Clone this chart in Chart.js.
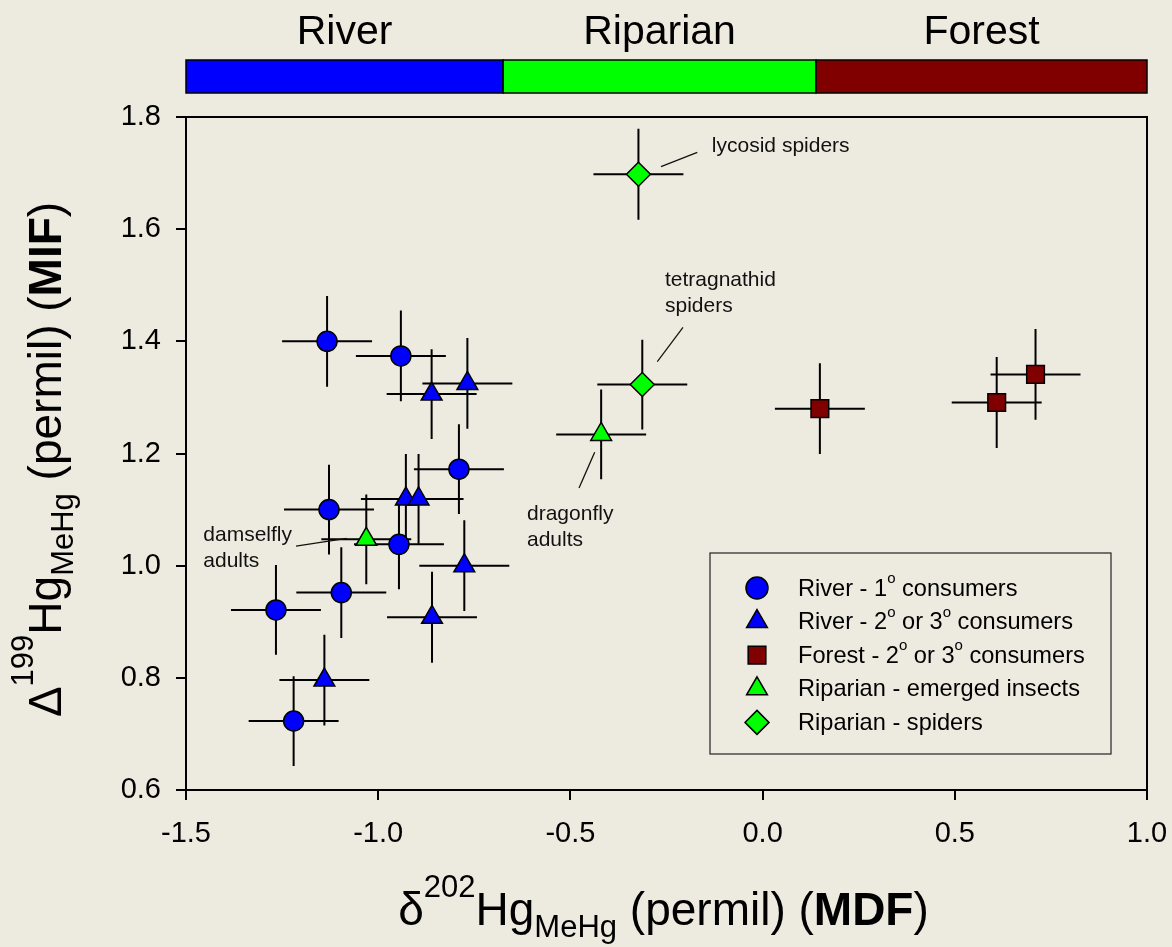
<!DOCTYPE html>
<html>
<head>
<meta charset="utf-8">
<script src="https://cdn.jsdelivr.net/npm/chart.js@4.4.1/dist/chart.umd.min.js"></script>
<style>
  html, body { margin: 0; padding: 0; background: #edebe0; }
  #wrap { width: 1172px; height: 947px; }
</style>
</head>
<body>
<div id="wrap"><canvas id="hgChart" width="1172" height="947"></canvas></div>
<script>
// River - 1o consumers (circles)
const river1X = [-1.133, -0.941, -0.790, -1.128, -0.946, -1.096, -1.266, -1.220];
const river1Y = [1.400, 1.374, 1.172, 1.100, 1.038, 0.952, 0.921, 0.723];
const river1XErr = [0.117, 0.117, 0.117, 0.117, 0.117, 0.117, 0.117, 0.117];
const river1YErr = [0.081, 0.081, 0.080, 0.080, 0.080, 0.081, 0.080, 0.080];

// River - 2o or 3o consumers (triangles)
const river2X = [-0.861, -0.768, -0.928, -0.895, -0.776, -0.860, -1.140];
const river2Y = [1.306, 1.325, 1.119, 1.119, 1.000, 0.908, 0.796];
const river2XErr = [0.117, 0.117, 0.117, 0.117, 0.117, 0.117, 0.117];
const river2YErr = [0.080, 0.081, 0.080, 0.080, 0.081, 0.081, 0.081];

// Forest - 2o or 3o consumers (squares)
const forestX = [0.149, 0.609, 0.710];
const forestY = [1.280, 1.291, 1.341];
const forestXErr = [0.117, 0.117, 0.117];
const forestYErr = [0.081, 0.081, 0.081];

// Riparian - emerged insects (triangles)
const emergedX = [-1.031, -0.420];
const emergedY = [1.047, 1.234];
const emergedXErr = [0.117, 0.117];
const emergedYErr = [0.080, 0.080];

// Riparian - spiders (diamonds)
const spiderX = [-0.323, -0.313];
const spiderY = [1.698, 1.323];
const spiderXErr = [0.117, 0.117];
const spiderYErr = [0.081, 0.080];

// habitat band across the top
const bandEdges = [-1.5, -0.675, 0.139, 1.0];
const bandLabels = ['River', 'Riparian', 'Forest'];
const bandColors = ['#0000ff', '#00ff00', '#800000'];

// tick range
const xTicks = [-1.5, -1.0, -0.5, 0.0, 0.5, 1.0];
const yTicks = [0.6, 0.8, 1.0, 1.2, 1.4, 1.6, 1.8];

// text annotations (data coordinates) and their leader lines
const noteLines = [
  { x: -0.132, y: 1.7376, text: ['lycosid spiders'] },
  { x: -0.254, y: 1.4992, text: ['tetragnathid', 'spiders'] },
  { x: -0.6129, y: 1.0814, text: ['dragonfly', 'adults'] },
  { x: -1.455, y: 1.0439, text: ['damselfly', 'adults'] }
];
const leaderLines = [
  [-0.2643, 1.7114, -0.1699, 1.737],
  [-0.2071, 1.425, -0.2739, 1.3637],
  [-0.4368, 1.2021, -0.4776, 1.1384],
  [-1.2138, 1.035, -1.082, 1.0487]
];

const FONT = "'Liberation Sans', Arial, Helvetica, sans-serif";

function toPoints(xs, ys) {
  return xs.map((x, i) => ({ x: x, y: ys[i] }));
}

const datasets = [
  { label: 'River - 1o consumers', data: toPoints(river1X, river1Y), xErr: river1XErr, yErr: river1YErr,
    pointStyle: 'circle', pointRadius: 10, backgroundColor: '#0000ff', legendSup: ['River - 1', 'o', ' consumers'] },
  { label: 'River - 2o or 3o consumers', data: toPoints(river2X, river2Y), xErr: river2XErr, yErr: river2YErr,
    pointStyle: 'triangle', pointRadius: 12, backgroundColor: '#0000ff', legendSup: ['River - 2', 'o', ' or 3', 'o', ' consumers'] },
  { label: 'Forest - 2o or 3o consumers', data: toPoints(forestX, forestY), xErr: forestXErr, yErr: forestYErr,
    pointStyle: 'rect', pointRadius: 12.5, backgroundColor: '#800000', legendSup: ['Forest - 2', 'o', ' or 3', 'o', ' consumers'] },
  { label: 'Riparian - emerged insects', data: toPoints(emergedX, emergedY), xErr: emergedXErr, yErr: emergedYErr,
    pointStyle: 'triangle', pointRadius: 12, backgroundColor: '#00ff00', legendSup: ['Riparian - emerged insects'] },
  { label: 'Riparian - spiders', data: toPoints(spiderX, spiderY), xErr: spiderXErr, yErr: spiderYErr,
    pointStyle: 'rectRot', pointRadius: 12, backgroundColor: '#00ff00', legendSup: ['Riparian - spiders'] }
];
datasets.forEach(ds => {
  ds.borderColor = '#000';
  ds.borderWidth = 1.5;
  ds.pointHoverRadius = ds.pointRadius;
});

// draw a line of mixed text pieces: {t, size, dy, bold}
function richWidth(ctx, parts) {
  let w = 0;
  parts.forEach(p => {
    ctx.font = (p.bold ? 'bold ' : '') + p.size + 'px ' + FONT;
    w += ctx.measureText(p.t).width;
  });
  return w;
}
function drawRich(ctx, parts, x, y) {
  parts.forEach(p => {
    ctx.font = (p.bold ? 'bold ' : '') + p.size + 'px ' + FONT;
    ctx.fillText(p.t, x, y + (p.dy || 0));
    x += ctx.measureText(p.t).width;
  });
}

function drawMarker(ctx, style, x, y, r) {
  ctx.beginPath();
  if (style === 'circle') {
    ctx.arc(x, y, r, 0, Math.PI * 2);
  } else if (style === 'triangle') {
    for (let k = 0; k < 3; k++) {
      const a = k * 2 * Math.PI / 3;
      const px = x + Math.sin(a) * r, py = y - Math.cos(a) * r;
      if (k === 0) ctx.moveTo(px, py); else ctx.lineTo(px, py);
    }
    ctx.closePath();
  } else if (style === 'rect') {
    const s = r * Math.SQRT1_2;
    ctx.rect(x - s, y - s, 2 * s, 2 * s);
  } else if (style === 'rectRot') {
    ctx.moveTo(x, y - r); ctx.lineTo(x + r, y); ctx.lineTo(x, y + r); ctx.lineTo(x - r, y);
    ctx.closePath();
  }
  ctx.fill();
  ctx.stroke();
}

// error bars behind markers, plus plot frame
const errorBars = {
  id: 'errorBars',
  beforeDatasetsDraw(chart) {
    const ctx = chart.ctx;
    const xs = chart.scales.x, ys = chart.scales.y;
    const area = chart.chartArea;
    ctx.save();
    ctx.strokeStyle = '#000';
    ctx.lineWidth = 2;
    ctx.strokeRect(area.left, area.top, area.right - area.left, area.bottom - area.top);
    chart.data.datasets.forEach(ds => {
      ds.data.forEach((p, i) => {
        const px = xs.getPixelForValue(p.x), py = ys.getPixelForValue(p.y);
        ctx.beginPath();
        ctx.moveTo(xs.getPixelForValue(p.x - ds.xErr[i]), py);
        ctx.lineTo(xs.getPixelForValue(p.x + ds.xErr[i]), py);
        ctx.moveTo(px, ys.getPixelForValue(p.y - ds.yErr[i]));
        ctx.lineTo(px, ys.getPixelForValue(p.y + ds.yErr[i]));
        ctx.stroke();
      });
    });
    ctx.restore();
  }
};

const decorations = {
  id: 'decorations',
  afterDraw(chart) {
    const ctx = chart.ctx;
    const xs = chart.scales.x, ys = chart.scales.y;
    const area = chart.chartArea;
    ctx.save();
    ctx.fillStyle = '#000';
    ctx.textBaseline = 'alphabetic';

    // habitat band
    const bTop = area.top - 57, bH = 33;
    bandLabels.forEach((lab, i) => {
      const x1 = xs.getPixelForValue(bandEdges[i]);
      const x2 = xs.getPixelForValue(bandEdges[i + 1]);
      ctx.fillStyle = bandColors[i];
      ctx.fillRect(x1, bTop, x2 - x1, bH);
      ctx.strokeStyle = '#000';
      ctx.lineWidth = 1.5;
      ctx.strokeRect(x1, bTop, x2 - x1, bH);
      ctx.fillStyle = '#000';
      ctx.font = '41px ' + FONT;
      ctx.textAlign = 'center';
      ctx.fillText(lab, (x1 + x2) / 2, area.top - 73);
    });

    // annotations
    ctx.textAlign = 'left';
    ctx.font = '21px ' + FONT;
    ctx.fillStyle = '#111';
    noteLines.forEach(n => {
      const x = xs.getPixelForValue(n.x), y = ys.getPixelForValue(n.y);
      n.text.forEach((t, k) => ctx.fillText(t, x, y + k * 26));
    });
    ctx.strokeStyle = '#111';
    ctx.lineWidth = 1.3;
    leaderLines.forEach(l => {
      ctx.beginPath();
      ctx.moveTo(xs.getPixelForValue(l[0]), ys.getPixelForValue(l[1]));
      ctx.lineTo(xs.getPixelForValue(l[2]), ys.getPixelForValue(l[3]));
      ctx.stroke();
    });

    // legend box
    const lx = area.left + 524, ly = area.top + 436, lw = 401, lh = 201;
    ctx.strokeStyle = '#222';
    ctx.lineWidth = 1.2;
    ctx.strokeRect(lx, ly, lw, lh);
    ctx.fillStyle = '#000';
    ctx.textBaseline = 'middle';
    chart.data.datasets.forEach((ds, i) => {
      const ry = ly + 35 + i * 33.6;
      ctx.fillStyle = ds.backgroundColor;
      ctx.strokeStyle = '#000';
      ctx.lineWidth = 1.5;
      drawMarker(ctx, ds.pointStyle, lx + 47, ry, ds.pointStyle === 'circle' ? 11 : ds.pointRadius);
      ctx.fillStyle = '#000';
      const parts = ds.legendSup.map((t, k) => (k % 2 === 1) ? { t: t, size: 15, dy: -10 } : { t: t, size: 23.6 });
      drawRich(ctx, parts, lx + 88, ry + 1);
    });

    // axis titles
    ctx.textBaseline = 'alphabetic';
    ctx.textAlign = 'left';
    const xTitle = [
      { t: '\u03b4', size: 46 }, { t: '202', size: 31, dy: -28 }, { t: 'Hg', size: 46 },
      { t: 'MeHg', size: 31, dy: 12 }, { t: ' (permil) (', size: 46 }, { t: 'MDF', size: 46, bold: true }, { t: ')', size: 46 }
    ];
    const xw = richWidth(ctx, xTitle);
    drawRich(ctx, xTitle, (area.left + area.right) / 2 - xw / 2 - 3, 925);

    const yTitle = [
      { t: '\u0394', size: 46 }, { t: '199', size: 31, dy: -28 }, { t: 'Hg', size: 46 },
      { t: 'MeHg', size: 31, dy: 12 }, { t: ' (permil) (', size: 46 }, { t: 'MIF', size: 46, bold: true }, { t: ')', size: 46 }
    ];
    const yw = richWidth(ctx, yTitle);
    ctx.translate(61, (area.top + area.bottom) / 2 + 6);
    ctx.rotate(-Math.PI / 2);
    drawRich(ctx, yTitle, -yw / 2, 0);
    ctx.restore();
  }
};

const canvasEl = document.getElementById('hgChart');
const hgChart = new Chart(canvasEl, {
  type: 'scatter',
  data: { datasets: datasets },
  options: {
    responsive: false,
    animation: false,
    layout: { padding: { top: 117, right: 25, left: 0, bottom: 0 } },
    plugins: { legend: { display: false }, tooltip: { enabled: false } },
    scales: {
      x: {
        type: 'linear', min: xTicks[0], max: xTicks[xTicks.length - 1],
        afterBuildTicks: s => { s.ticks = xTicks.map(v => ({ value: v })); },
        ticks: { callback: v => Number(v).toFixed(1), color: '#000', font: { size: 29, family: FONT }, padding: 17, maxRotation: 0 },
        grid: { drawOnChartArea: false, drawTicks: true, tickLength: 10, color: '#000', lineWidth: 2 },
        border: { display: true, color: '#000', width: 2 },
        afterFit: s => { s.height = 157; s.paddingLeft = 0; s.paddingRight = 0; }
      },
      y: {
        type: 'linear', min: yTicks[0], max: yTicks[yTicks.length - 1],
        afterBuildTicks: s => { s.ticks = yTicks.map(v => ({ value: v })); },
        ticks: { callback: v => Number(v).toFixed(1), color: '#000', font: { size: 29, family: FONT }, padding: 15 },
        grid: { drawOnChartArea: false, drawTicks: true, tickLength: 10, color: '#000', lineWidth: 2 },
        border: { display: true, color: '#000', width: 2 },
        afterFit: s => { s.width = 186; }
      }
    }
  },
  plugins: [errorBars, decorations]
});
</script>
</body>
</html>
